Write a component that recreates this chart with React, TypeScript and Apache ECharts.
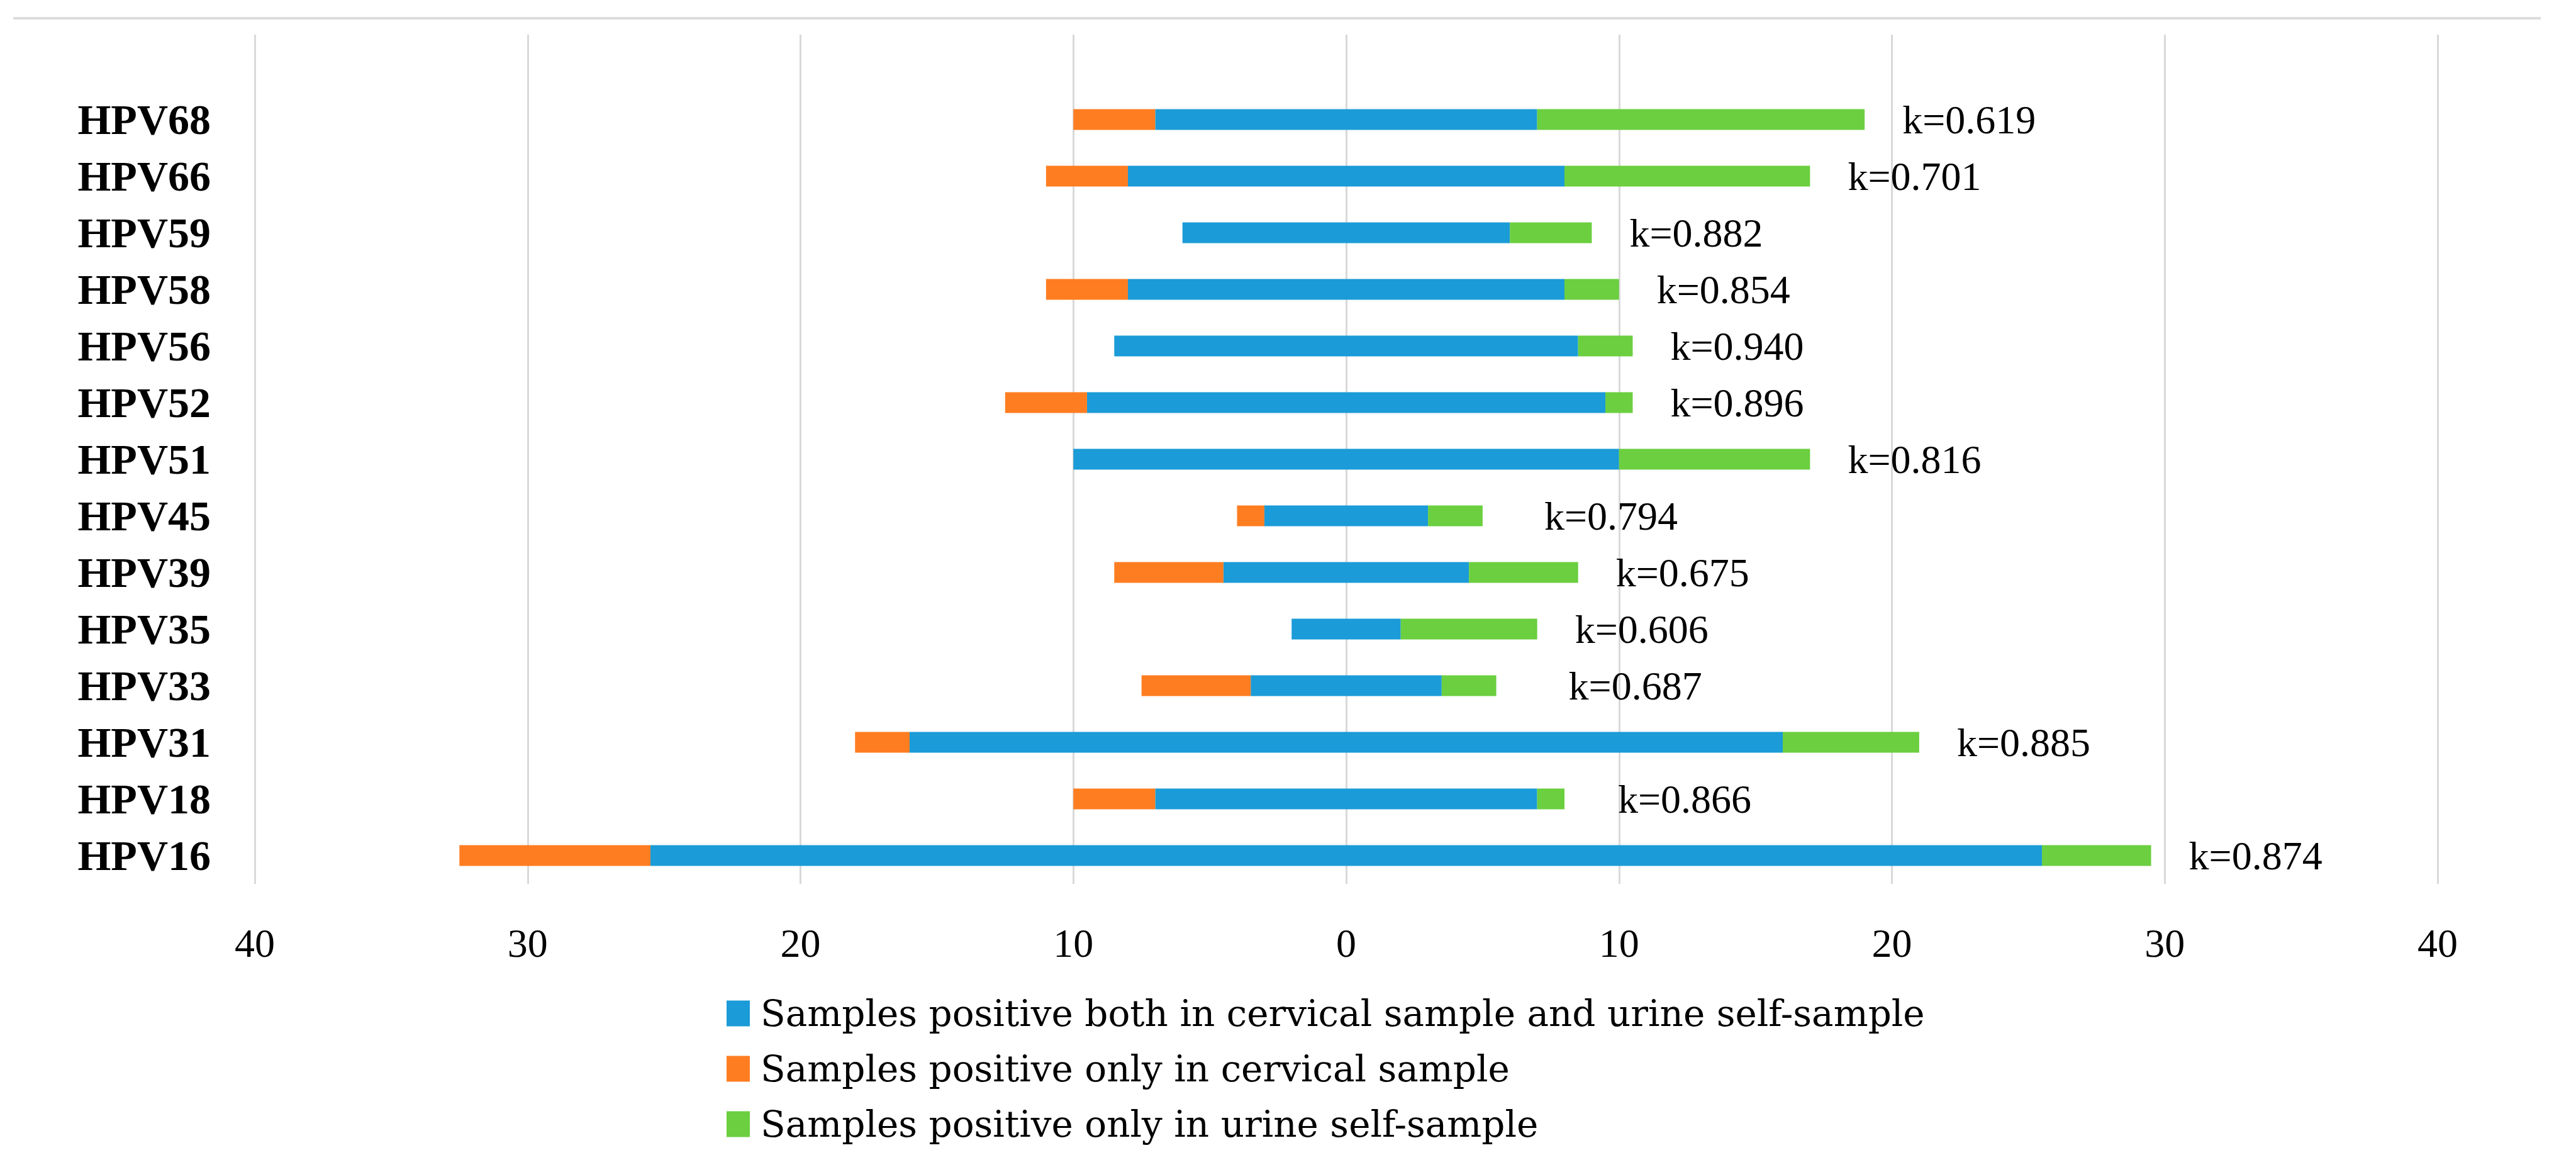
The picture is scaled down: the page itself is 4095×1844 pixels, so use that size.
import React, { useEffect, useRef } from "react";
import * as echarts from "echarts";

// bottom-to-top order, as drawn on the category axis
const categories = ["HPV16", "HPV18", "HPV31", "HPV33", "HPV35", "HPV39", "HPV45", "HPV51", "HPV52", "HPV56", "HPV58", "HPV59", "HPV66", "HPV68"];
const bothPositive = [51, 14, 32, 7, 4, 9, 6, 20, 19, 17, 16, 12, 16, 14];
const cervicalOnly = [7, 3, 2, 4, 0, 4, 1, 0, 3, 0, 3, 0, 3, 3];
const urineOnly = [4, 1, 5, 2, 5, 4, 2, 7, 1, 2, 2, 3, 9, 12];
const kappa = [0.874, 0.866, 0.885, 0.687, 0.606, 0.675, 0.794, 0.816, 0.896, 0.94, 0.854, 0.882, 0.701, 0.619];
const xTicks = { min: -40, max: 40, interval: 10 };

const NAME_BOTH = "Samples positive both in cervical sample and urine self-sample";
const NAME_CERV = "Samples positive only in cervical sample";
const NAME_URINE = "Samples positive only in urine self-sample";

const BLUE = "#1B9BD7";
const ORANGE = "#FF7D21";
const GREEN = "#6BCF3F";
const SERIF = "'Liberation Serif', 'DejaVu Serif', serif";
const WIDE_SERIF = "'DejaVu Serif', 'Liberation Serif', serif";

// extra horizontal gap (px) for a few k labels that sit further from their bar
const kLabelExtraGap: Record<string, number> = { HPV45: 38, HPV33: 55, HPV18: 25 };

export default function App() {
  const ref = useRef<HTMLDivElement>(null);
  useEffect(() => {
    if (!ref.current) return;
    const chart = echarts.init(ref.current, undefined, { renderer: "svg" });
    const barW = 33;
    const option = {
      animation: false,
      backgroundColor: "#ffffff",
      graphic: [
        {
          type: "line",
          shape: { x1: 21, y1: 29, x2: 4039, y2: 29 },
          style: { stroke: "#dcdcdc", lineWidth: 4 },
          silent: true,
        },
      ],
      grid: { left: 405, right: 220, top: 55, height: 1350, containLabel: false },
      xAxis: {
        type: "value",
        min: xTicks.min,
        max: xTicks.max,
        interval: xTicks.interval,
        axisLine: { show: false },
        axisTick: { show: false },
        splitLine: { show: true, lineStyle: { color: "#d9d9d9", width: 3 } },
        axisLabel: {
          formatter: (v: number) => String(Math.abs(v)),
          fontFamily: SERIF,
          fontSize: 64,
          color: "#000",
          margin: 62,
        },
      },
      yAxis: {
        type: "category",
        data: [...categories, ""],
        axisLine: { show: false },
        axisTick: { show: false },
        splitLine: { show: false },
        axisLabel: {
          fontFamily: SERIF,
          fontWeight: "bold",
          fontSize: 68,
          color: "#000",
          margin: 70,
        },
      },
      legend: {
        orient: "vertical",
        left: 1150,
        top: 1576,
        itemWidth: 37,
        itemHeight: 41,
        itemGap: 28,
        icon: "rect",
        data: [NAME_BOTH, NAME_CERV, NAME_URINE],
        textStyle: {
          fontFamily: WIDE_SERIF,
          fontSize: 58,
          lineHeight: 60,
          color: "#000",
          padding: [0, 0, 0, 12],
        },
      },
      series: [
        {
          name: NAME_BOTH,
          type: "bar",
          stack: "s",
          barWidth: barW,
          itemStyle: { color: BLUE },
          data: bothPositive.map((v) => -v / 2),
        },
        {
          name: NAME_CERV,
          type: "bar",
          stack: "s",
          barWidth: barW,
          itemStyle: { color: ORANGE },
          data: cervicalOnly.map((v) => -v),
        },
        {
          name: NAME_BOTH,
          type: "bar",
          stack: "s",
          barWidth: barW,
          itemStyle: { color: BLUE },
          data: bothPositive.map((v) => v / 2),
        },
        {
          name: NAME_URINE,
          type: "bar",
          stack: "s",
          barWidth: barW,
          itemStyle: { color: GREEN },
          data: urineOnly.map((v, i) => {
            const extra = kLabelExtraGap[categories[i]];
            return extra ? { value: v, label: { offset: [extra, 0] } } : v;
          }),
          label: {
            show: true,
            position: "right",
            distance: 60,
            formatter: (p: any) => "k=" + kappa[p.dataIndex].toFixed(3),
            fontFamily: SERIF,
            fontSize: 64,
            color: "#000",
          },
        },
      ],
    };
    chart.setOption(option as any);
    return () => chart.dispose();
  }, []);
  return <div ref={ref} style={{ position: "absolute", left: 0, top: 0, width: 4095, height: 1844 }} />;
}
